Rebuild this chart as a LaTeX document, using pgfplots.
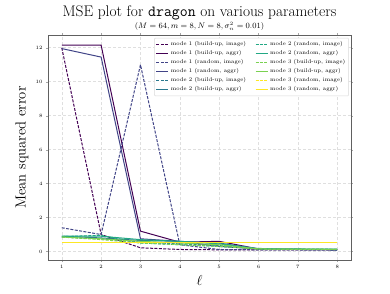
\documentclass[border=0pt]{standalone}
\usepackage{fontspec}
\usepackage{pgfplots}
\pgfplotsset{compat=1.18}
\definecolor{v1}{HTML}{440154}
\definecolor{v2}{HTML}{414487}
\definecolor{v3}{HTML}{2A788E}
\definecolor{v4}{HTML}{22A884}
\definecolor{v5}{HTML}{7AD151}
\definecolor{v6}{HTML}{FDE725}
\tikzset{mpldash/.style={dash pattern=on 3pt off 1.4pt}}
\begin{document}
\begin{tikzpicture}
\useasboundingbox (-48pt,-33pt) rectangle (342pt,260pt);
\begin{axis}[
  scale only axis, width=303pt, height=225pt,
  at={(0,0)}, anchor=south west,
  xmin=0.65, xmax=8.35, ymin=-0.5, ymax=12.75,
  xtick={1,...,8}, ytick={0,2,...,12},
  tick label style={font=\fontsize{5.5}{6}\selectfont},
  tick align=outside, major tick length=2pt,
  tick style={gray!70},
  xmajorgrids, ymajorgrids,
  major grid style={densely dashed, gray!25, line width=0.5pt},
  axis line style={gray!75!black, line width=0.9pt},
  every axis plot/.append style={line width=1pt},
  legend columns=6, transpose legend,
  legend cell align=left,
  legend style={at={(rel axis cs:0.993,0.987)}, anchor=north east,
    font=\fontsize{5.5}{6.5}\selectfont, draw=gray!30, rounded corners=1pt,
    row sep=-0.6pt, inner sep=1.5pt,
    /tikz/every even column/.append style={column sep=7pt}},
  legend image code/.code={\draw[#1] (0pt,0pt) -- (12pt,0pt);},
  clip=true,
]
\addplot[v1, mpldash] coordinates {(1,12.0)(2,1.0)(3,0.22)(4,0.12)(5,0.1)(6,0.1)(7,0.1)(8,0.1)};
\addlegendentry{mode 1 (build-up, image)}
\addplot[v1] coordinates {(1,12.15)(2,12.15)(3,1.2)(4,0.55)(5,0.6)(6,0.15)(7,0.12)(8,0.1)};
\addlegendentry{mode 1 (build-up, aggr)}
\addplot[v2, mpldash] coordinates {(1,1.4)(2,1.0)(3,11.0)(4,0.4)(5,0.12)(6,0.1)(7,0.1)(8,0.1)};
\addlegendentry{mode 1 (random, image)}
\addplot[v2] coordinates {(1,11.95)(2,11.45)(3,0.75)(4,0.6)(5,0.3)(6,0.15)(7,0.12)(8,0.1)};
\addlegendentry{mode 1 (random, aggr)}
\addplot[v3, mpldash] coordinates {(1,0.85)(2,0.75)(3,0.55)(4,0.45)(5,0.35)(6,0.15)(7,0.12)(8,0.1)};
\addlegendentry{mode 2 (build-up, image)}
\addplot[v3] coordinates {(1,0.9)(2,0.8)(3,0.65)(4,0.6)(5,0.5)(6,0.15)(7,0.13)(8,0.12)};
\addlegendentry{mode 2 (build-up, aggr)}
\addplot[v4, mpldash] coordinates {(1,0.88)(2,0.95)(3,0.5)(4,0.4)(5,0.3)(6,0.18)(7,0.15)(8,0.13)};
\addlegendentry{mode 2 (random, image)}
\addplot[v4] coordinates {(1,0.9)(2,0.9)(3,0.7)(4,0.6)(5,0.45)(6,0.17)(7,0.15)(8,0.14)};
\addlegendentry{mode 2 (random, aggr)}
\addplot[v5, mpldash] coordinates {(1,0.85)(2,0.7)(3,0.5)(4,0.4)(5,0.3)(6,0.15)(7,0.13)(8,0.12)};
\addlegendentry{mode 3 (build-up, image)}
\addplot[v5] coordinates {(1,0.85)(2,0.75)(3,0.6)(4,0.5)(5,0.4)(6,0.15)(7,0.14)(8,0.13)};
\addlegendentry{mode 3 (build-up, aggr)}
\addplot[v6, mpldash] coordinates {(1,0.55)(2,0.55)(3,0.55)(4,0.55)(5,0.55)(6,0.55)(7,0.55)(8,0.55)};
\addlegendentry{mode 3 (random, image)}
\addplot[v6] coordinates {(1,0.55)(2,0.55)(3,0.55)(4,0.55)(5,0.55)(6,0.55)(7,0.55)(8,0.55)};
\addlegendentry{mode 3 (random, aggr)}
\end{axis}
\node[font=\fontsize{15.4}{17}\selectfont] at (151.5pt,247pt) {MSE plot for \texttt{dragon} on various parameters};
\node[font=\fontsize{7.6}{9}\selectfont, inner sep=1pt] at (151.5pt,233.5pt) {$(M=64, m=8, N=8, \sigma_n^2=0.01)$};
\node[font=\fontsize{14.6}{16}\selectfont, rotate=90] at (-26pt,112.5pt) {Mean squared error};
\node[font=\fontsize{15}{16}\selectfont] at (151.5pt,-20pt) {$\ell$};
\end{tikzpicture}
\end{document}
